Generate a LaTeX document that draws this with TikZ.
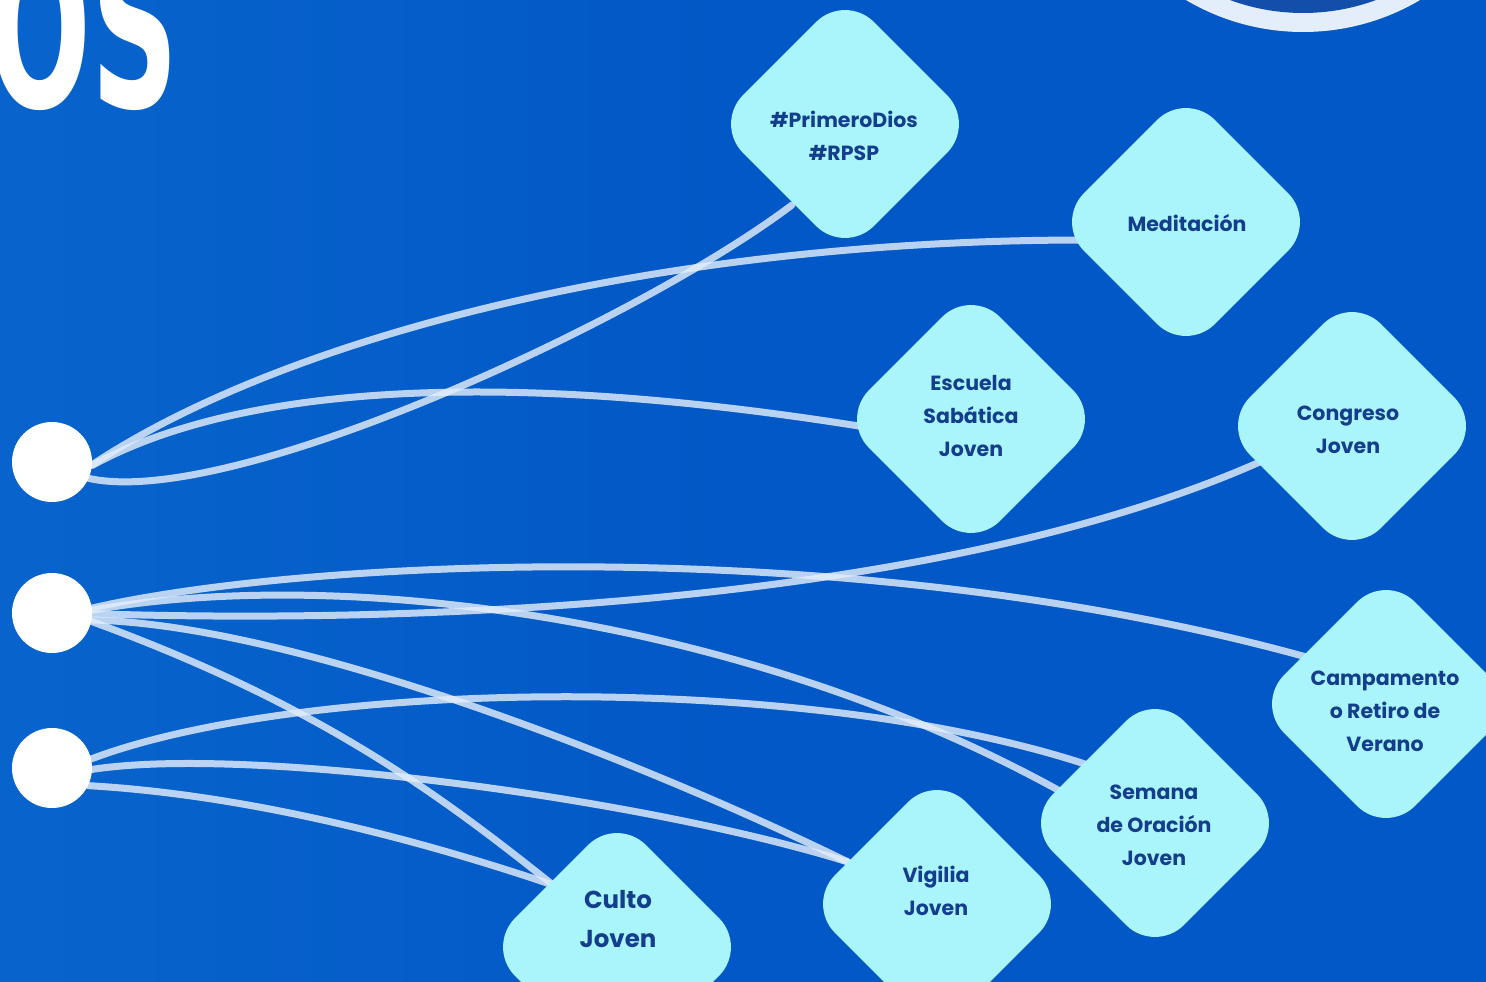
\documentclass[tikz,border=0pt]{standalone}
\usepackage{fontspec}
\setmainfont{Poppins}
\newfontfamily\headfont{DejaVu Sans}
\usetikzlibrary{shapes.geometric,calc}
\definecolor{bgblue}{RGB}{2,88,198}
\definecolor{bgleft}{RGB}{8,100,204}
\definecolor{diafill}{RGB}{170,244,252}
\definecolor{diatext}{RGB}{20,62,140}
\definecolor{wire}{RGB}{226,237,251}
\definecolor{ringc}{RGB}{228,238,250}
\definecolor{ringin}{RGB}{18,78,170}
\pgfdeclarelayer{back}
\pgfdeclarelayer{wires}
\pgfsetlayers{back,wires,main}
\tikzset{
  dia/.style={diamond, aspect=1, minimum width=262pt, minimum height=262pt,
    inner sep=0pt, fill=diafill, rounded corners=41pt},
  lbl/.style={align=center, text=diatext, inner sep=0pt,
    font=\bfseries\fontsize{20.5}{33}\selectfont},
  biglbl/.style={lbl, font=\bfseries\fontsize{24.5}{39}\selectfont},
  hub/.style={circle, fill=white, minimum size=80pt, inner sep=0pt},
  wirestyle/.style={draw=wire, line width=7pt, draw opacity=0.82, line cap=round},
}
\begin{document}
\begin{tikzpicture}[x=1pt,y=-1pt]
\useasboundingbox (0,0) rectangle (1486,982);
\begin{pgfonlayer}{back}
  \shade[left color=bgleft, right color=bgblue, middle color=bgblue] (0,0) rectangle (1486,982);
  \fill[ringc] (1303,-198) circle[radius=230];
  \fill[ringin] (1303,-198) circle[radius=211];
  \node[anchor=base west, text=white, inner sep=0pt,
        font=\headfont\bfseries\fontsize{220}{220}\selectfont] (os) at (-12,107)
        {\scalebox{0.55}[1]{OS}};
\end{pgfonlayer}

% hubs
\node[hub] (c1) at (52,462) {};
\node[hub] (c2) at (52,613) {};
\node[hub] (c3) at (52,768) {};

% diamonds
\node[dia] (pd)  at (845,124) {};
\node[dia] (med) at (1186,222) {};
\node[dia] (esc) at (971,419) {};
\node[dia] (con) at (1352,426) {};
\node[dia] (cam) at (1386,704) {};
\node[dia] (sem) at (1155,823) {};
\node[dia] (vig) at (937,904) {};
\node[dia] (cul) at (617,947) {};

% labels
\node[lbl] (pdT)  at (844,136) {\#PrimeroDios\\\#RPSP};
\node[lbl] (medT) at (1187,223) {Meditación};
\node[lbl] (escT) at (971,416) {Escuela\\Sabática\\Joven};
\node[lbl] (conT) at (1348,430) {Congreso\\Joven};
\node[lbl] (camT) at (1385,711) {Campamento\\o Retiro de\\Verano};
\node[lbl] (semT) at (1154,825) {Semana\\de Oración\\Joven};
\node[lbl] (vigT) at (936,891) {Vigilia\\Joven};
\node[biglbl] (culT) at (618,919) {Culto\\Joven};

% connectors
\begin{pgfonlayer}{wires}
  % hub 1
  \draw[wirestyle] (c1.-4) .. controls (280,340) and (650,240) .. ($(med)+(-101,18)$);
  \draw[wirestyle] (c1.-5) .. controls (230,390) and (480,365) .. ($(esc)+(-106,8)$);
  \draw[wirestyle] (c1.-24) .. controls (230,510) and (640,320) .. ($(pd)+(-53,81)$);
  % hub 2
  \draw[wirestyle] (c2.7) .. controls (300,560) and (850,530) .. ($(cam)+(-76,-46)$);
  \draw[wirestyle] (c2.-1) .. controls (450,625) and (950,600) .. ($(con)+(-90,35)$);
  \draw[wirestyle] (c2.4) .. controls (350,565) and (750,620) .. ($(sem)+(-97,-33)$);
  \draw[wirestyle] (c2.-10) .. controls (300,625) and (650,765) .. ($(vig)+(-89,-42)$);
  \draw[wirestyle] (c2.-12) .. controls (320,705) and (440,795) .. ($(cul)+(-64,-62)$);
  % hub 3
  \draw[wirestyle] (c3.13) .. controls (300,680) and (800,670) .. ($(sem)+(-67,-58)$);
  \draw[wirestyle] (c3.-2) .. controls (250,745) and (650,800) .. ($(vig)+(-89,-42)$);
  \draw[wirestyle] (c3.-26) .. controls (250,795) and (420,840) .. ($(cul)+(-64,-62)$);
\end{pgfonlayer}
\end{tikzpicture}
\end{document}
